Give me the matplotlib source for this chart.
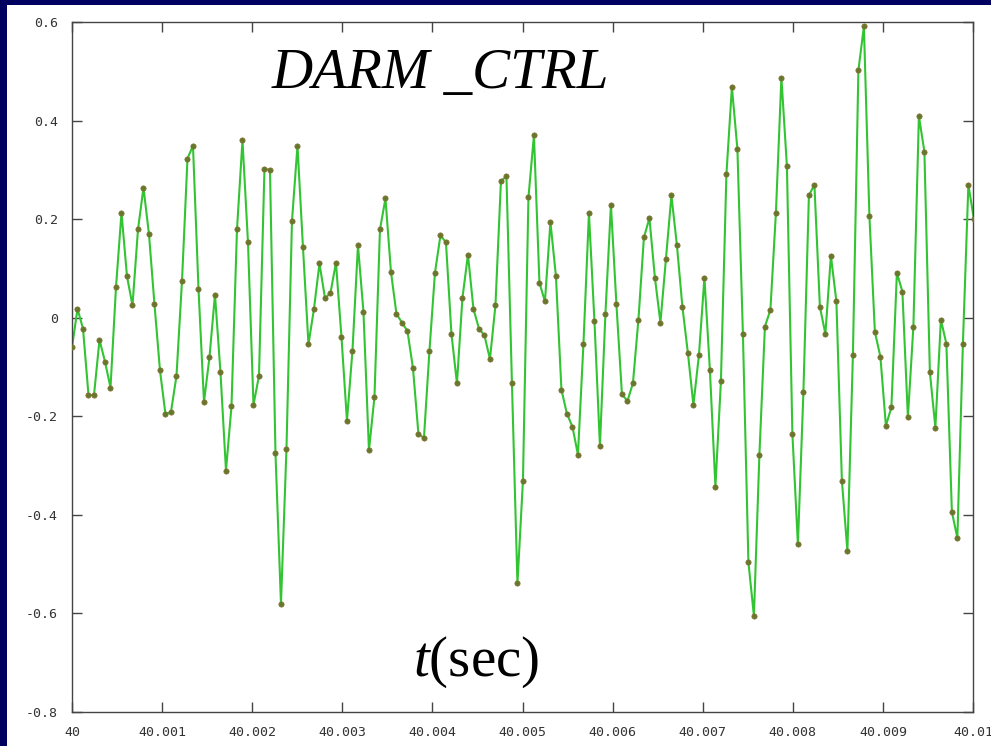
import numpy as np
import matplotlib
matplotlib.use('Agg')
import matplotlib.pyplot as plt
from matplotlib.patches import Rectangle

# DARM_CTRL samples, 16384 Hz, starting at t = 40 s
FS = 16384
T0 = 40.0
darm = [
    -0.060, 0.018, -0.022, -0.157, -0.157, -0.045, -0.089, -0.142, 0.062, 0.213,
    0.084, 0.025, 0.179, 0.264, 0.169, 0.027, -0.107, -0.196, -0.191, -0.118,
    0.074, 0.323, 0.349, 0.059, -0.171, -0.080, 0.047, -0.111, -0.310, -0.180,
    0.179, 0.360, 0.153, -0.177, -0.118, 0.302, 0.300, -0.275, -0.580, -0.266,
    0.196, 0.349, 0.143, -0.054, 0.018, 0.110, 0.040, 0.050, 0.112, -0.039,
    -0.209, -0.067, 0.147, 0.012, -0.269, -0.161, 0.179, 0.242, 0.093, 0.008,
    -0.010, -0.027, -0.102, -0.236, -0.244, -0.067, 0.091, 0.167, 0.153, -0.033,
    -0.133, 0.040, 0.128, 0.018, -0.022, -0.036, -0.084, 0.025, 0.277, 0.287,
    -0.133, -0.539, -0.331, 0.244, 0.370, 0.071, 0.033, 0.194, 0.084, -0.146,
    -0.195, -0.221, -0.278, -0.054, 0.212, -0.006, -0.260, 0.008, 0.229, 0.027,
    -0.155, -0.169, -0.133, -0.004, 0.163, 0.202, 0.081, -0.010, 0.119, 0.248,
    0.147, 0.022, -0.072, -0.177, -0.076, 0.081, -0.107, -0.343, -0.129, 0.291,
    0.468, 0.342, -0.033, -0.496, -0.605, -0.278, -0.018, 0.016, 0.213, 0.487,
    0.308, -0.236, -0.460, -0.151, 0.248, 0.270, 0.022, -0.033, 0.126, 0.033,
    -0.331, -0.473, -0.076, 0.502, 0.591, 0.207, -0.029, -0.079, -0.219, -0.182,
    0.091, 0.053, -0.202, -0.018, 0.409, 0.337, -0.111, -0.223, -0.004, -0.053,
    -0.394, -0.447, -0.054, 0.270, 0.200,
]
t = T0 + np.arange(len(darm)) / FS

x_ticks = [40, 40.001, 40.002, 40.003, 40.004, 40.005, 40.006, 40.007, 40.008, 40.009, 40.01]
x_labels = ['40', '40.001', '40.002', '40.003', '40.004', '40.005',
            '40.006', '40.007', '40.008', '40.009', '40.01']
y_ticks = [-0.8, -0.6, -0.4, -0.2, 0, 0.2, 0.4, 0.6]
y_labels = ['-0.8', '-0.6', '-0.4', '-0.2', '0', '0.2', '0.4', '0.6']

W, H = 991, 746
fig = plt.figure(figsize=(W / 100, H / 100), dpi=100)
fig.patch.set_facecolor('#000060')

# white slide panel behind the plot
fig.patches.append(Rectangle((7 / W, 0), 1 - 7 / W, 1 - 5 / H,
                             transform=fig.transFigure, facecolor='white',
                             edgecolor='none', zorder=-10))

ax = fig.add_axes([72 / W, 34 / H, 901 / W, 690 / H])
ax.set_facecolor('white')

ax.plot(t, darm, color='#33c433', lw=1.5, zorder=2)
ax.plot(t, darm, ls='none', marker='o', ms=3.8, mfc='#627a2a',
        mec='#8a6d35', mew=0.5, zorder=3)

ax.set_xlim(40, 40.01)
ax.set_ylim(-0.8, 0.6)
ax.set_xticks(x_ticks)
ax.set_xticklabels(x_labels)
ax.set_yticks(y_ticks)
ax.set_yticklabels(y_labels)

for s in ax.spines.values():
    s.set_color('#444444')
    s.set_linewidth(1.0)

ax.tick_params(direction='in', length=7, width=1, color='#444444',
               top=True, right=True, pad=10)
for lab in ax.get_xticklabels() + ax.get_yticklabels():
    lab.set_family('DejaVu Sans Mono')
    lab.set_fontsize(9.5)
    lab.set_color('#333333')

plt.rcParams['mathtext.fontset'] = 'custom'
plt.rcParams['mathtext.it'] = 'Liberation Serif:italic'
plt.rcParams['mathtext.rm'] = 'Liberation Serif'

fig.text(272 / W, 1 - 88 / H, 'DARM _CTRL', family='Liberation Serif',
         style='italic', fontsize=41, color='black', va='baseline', ha='left')
fig.text(413 / W, 1 - 676 / H, r'$t$(sec)', family='Liberation Serif',
         fontsize=41, color='black', va='baseline', ha='left')

fig.savefig('out.png', dpi=100, facecolor=fig.get_facecolor())
